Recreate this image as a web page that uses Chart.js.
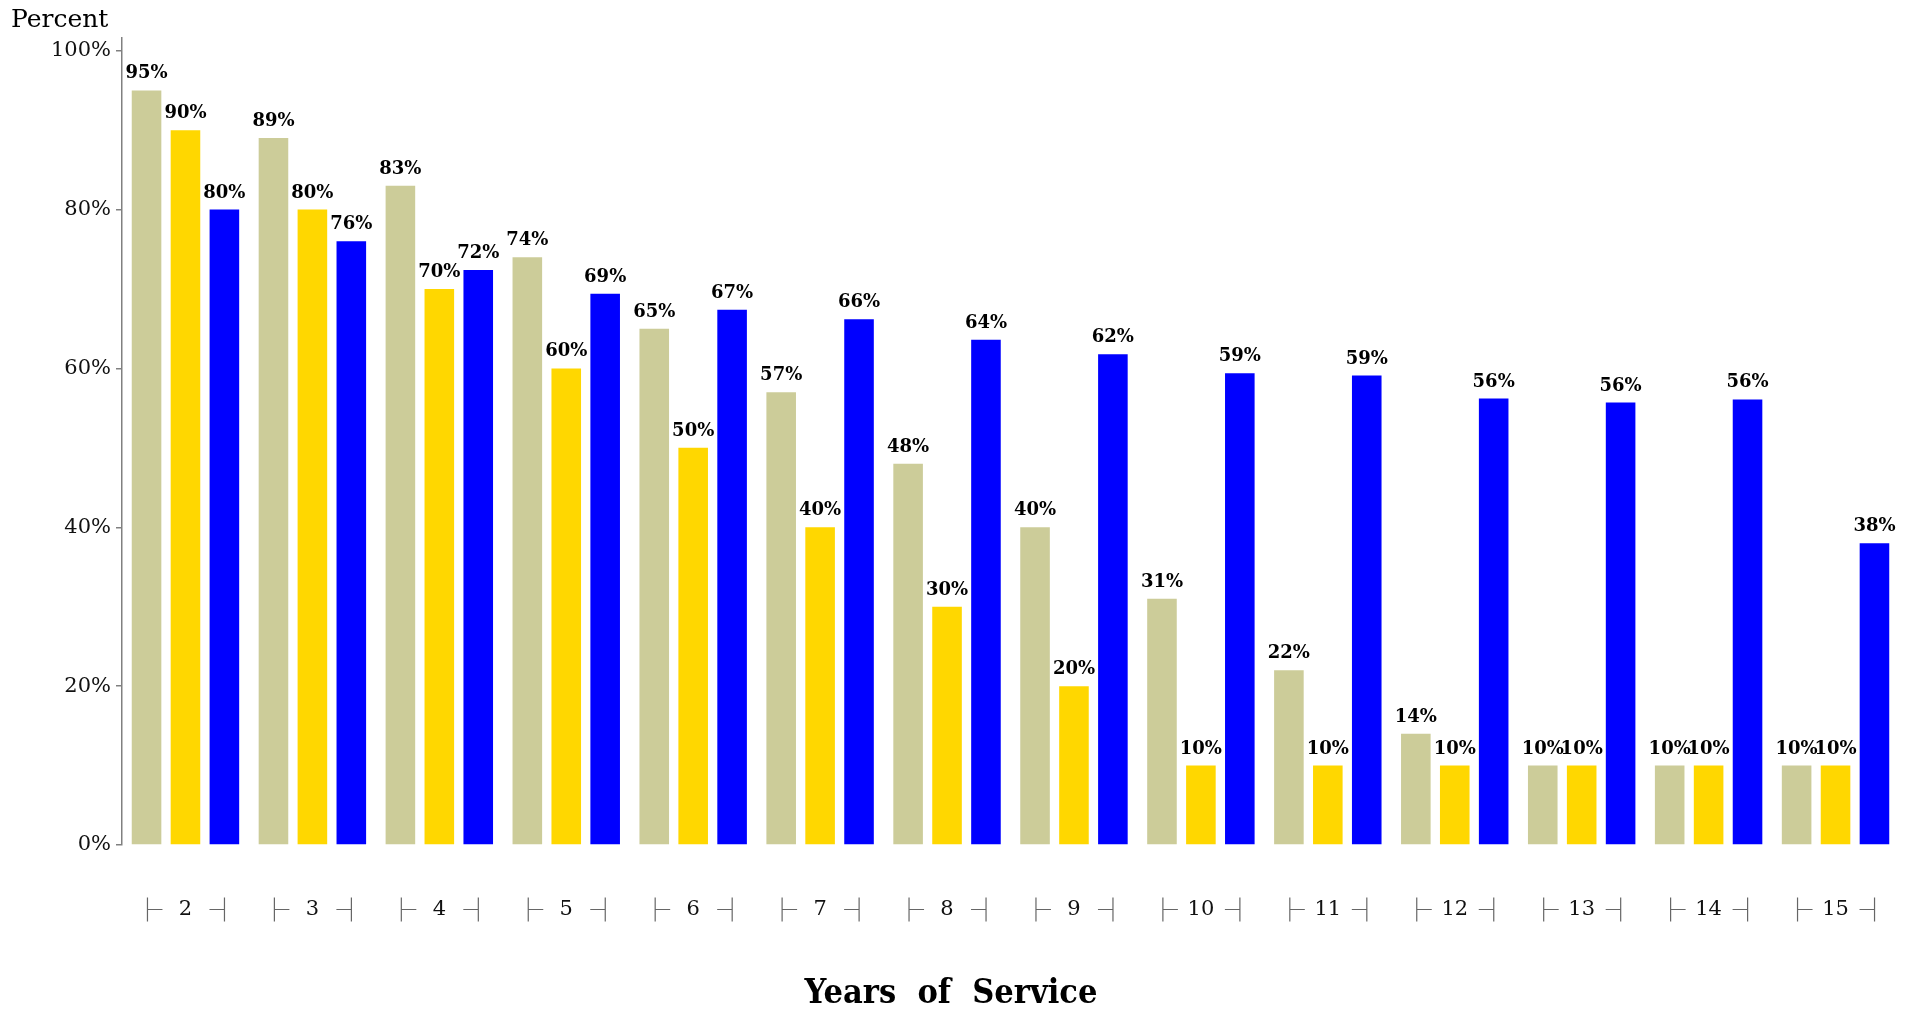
<!DOCTYPE html>
<html>
<head>
<meta charset="utf-8">
<script src="https://cdn.jsdelivr.net/npm/chart.js@4.4.1/dist/chart.umd.min.js"></script>
<style>
  html, body { margin: 0; padding: 0; background: #ffffff; }
  #wrap { width: 1915px; height: 1013px; position: relative; }
</style>
</head>
<body>
<div id="wrap"><canvas id="c"></canvas></div>
<script>
const categories = ['2', '3', '4', '5', '6', '7', '8', '9', '10', '11', '12', '13', '14', '15'];
const seriesA = [95, 89, 83, 74, 65, 57, 48, 40, 31, 22, 14, 10, 10, 10];
const seriesB = [90, 80, 70, 60, 50, 40, 30, 20, 10, 10, 10, 10, 10, 10];
const seriesC = [80, 76, 72.4, 69.4, 67.4, 66.2, 63.6, 61.8, 59.4, 59.1, 56.2, 55.7, 56.1, 38];
const seriesColors = ['#CCCC99', '#FFD700', '#0000FF'];
const yAxisTitle = 'Percent';
const xAxisTitle = 'Years  of  Service';

const SERIF = '"DejaVu Serif", "Liberation Serif", serif';
const SERIF_COND = '"DejaVu Serif Condensed", "DejaVu Serif", serif';

const barLabels = {
  id: 'barLabels',
  afterDatasetsDraw(chart) {
    const ctx = chart.ctx;
    ctx.save();
    ctx.font = 'bold 18px ' + SERIF;
    ctx.fillStyle = '#000';
    ctx.textAlign = 'center';
    ctx.textBaseline = 'alphabetic';
    chart.data.datasets.forEach((ds, di) => {
      const meta = chart.getDatasetMeta(di);
      meta.data.forEach((el, i) => {
        ctx.fillText(Math.round(ds.data[i]) + '%', el.x, el.y - 12);
      });
    });
    ctx.restore();
  }
};

const extras = {
  id: 'extras',
  afterDraw(chart) {
    const ctx = chart.ctx;
    ctx.save();
    // top-left axis caption
    ctx.font = '25px ' + SERIF;
    ctx.fillStyle = '#000';
    ctx.textAlign = 'left';
    ctx.textBaseline = 'alphabetic';
    ctx.fillText(yAxisTitle, 11, 27);
    // x axis title
    ctx.font = 'bold 34px ' + SERIF_COND;
    try { ctx.fontStretch = 'condensed'; } catch (e) {}
    ctx.textAlign = 'center';
    ctx.fillText(xAxisTitle, 951, 1003);
    try { ctx.fontStretch = 'normal'; } catch (e) {}
    // bracket marks around x tick labels
    const xs = chart.scales.x;
    const yc = 909.5;
    ctx.strokeStyle = '#666';
    ctx.lineWidth = 1.2;
    categories.forEach((c, i) => {
      const px = xs.getPixelForTick(i);
      ctx.beginPath();
      ctx.moveTo(px - 38, yc - 12); ctx.lineTo(px - 38, yc + 12);
      ctx.moveTo(px - 38, yc); ctx.lineTo(px - 23, yc);
      ctx.moveTo(px + 39, yc - 12); ctx.lineTo(px + 39, yc + 12);
      ctx.moveTo(px + 39, yc); ctx.lineTo(px + 24, yc);
      ctx.stroke();
    });
    ctx.restore();
  }
};

new Chart(document.getElementById('c'), {
  type: 'bar',
  data: {
    labels: categories,
    datasets: [
      { data: seriesA, backgroundColor: seriesColors[0] },
      { data: seriesB, backgroundColor: seriesColors[1] },
      { data: seriesC, backgroundColor: seriesColors[2] }
    ]
  },
  options: {
    responsive: true,
    maintainAspectRatio: false,
    animation: false,
    categoryPercentage: 0.92,
    barPercentage: 0.76,
    layout: { padding: { left: 0, right: 16, top: 38, bottom: 0 } },
    plugins: { legend: { display: false }, tooltip: { enabled: false }, title: { display: false } },
    scales: {
      x: {
        grid: { display: false, drawTicks: false },
        border: { display: false },
        ticks: { font: { family: SERIF, size: 21 }, color: '#111', padding: 52 },
        title: { display: false },
        afterFit(scale) { scale.height = 168; }
      },
      y: {
        min: 0,
        max: 101.6,
        grid: { display: true, drawOnChartArea: false, drawTicks: true, tickLength: 6, color: '#808080', lineWidth: 1.5 },
        border: { display: true, color: '#808080', width: 1.5 },
        ticks: { stepSize: 20, includeBounds: false, font: { family: SERIF, size: 21 }, color: '#111', padding: 5, callback: v => v + '%' },
        afterFit(scale) { scale.width = 122; }
      }
    }
  },
  plugins: [barLabels, extras]
});
</script>
</body>
</html>
